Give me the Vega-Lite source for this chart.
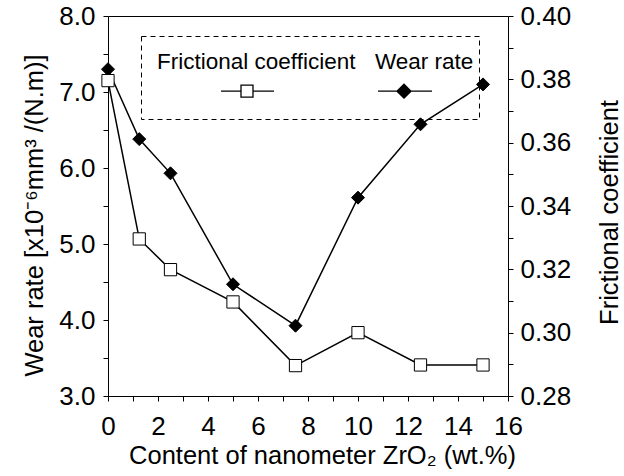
{
  "$schema": "https://vega.github.io/schema/vega-lite/v6.json",
  "width": 400,
  "height": 380,
  "autosize": {"type": "none"},
  "padding": {"left": 108, "top": 16, "right": 116, "bottom": 80},
  "config": {
    "font": "Liberation Sans",
    "view": {"stroke": "black", "strokeWidth": 1},
    "axis": {
      "domain": false,
      "grid": false,
      "labelFont": "Liberation Sans",
      "labelFontSize": 26,
      "labelColor": "black",
      "titleFont": "Liberation Sans",
      "titleFontSize": 25.5,
      "titleFontWeight": "normal",
      "titleColor": "black",
      "tickColor": "black",
      "tickWidth": 1,
      "labelOverlap": false,
      "labelFlush": false,
      "labelBound": false
    },
    "legend": {"strokeDash": [5, 4], "strokeColor": "black", "strokeWidth": 1}
  },
  "data": {
    "values": [
      {"content": 0, "wear_rate": 7.30, "frictional_coefficient": 0.3796},
      {"content": 1.25, "wear_rate": 6.38, "frictional_coefficient": 0.3296},
      {"content": 2.5, "wear_rate": 5.93, "frictional_coefficient": 0.3199},
      {"content": 5, "wear_rate": 4.47, "frictional_coefficient": 0.3097},
      {"content": 7.5, "wear_rate": 3.925, "frictional_coefficient": 0.2896},
      {"content": 10, "wear_rate": 5.61, "frictional_coefficient": 0.300},
      {"content": 12.5, "wear_rate": 6.575, "frictional_coefficient": 0.2898},
      {"content": 15, "wear_rate": 7.10, "frictional_coefficient": 0.2898}
    ]
  },
  "encoding": {
    "x": {
      "field": "content",
      "type": "quantitative",
      "scale": {"domain": [0, 16], "nice": false, "zero": false},
      "axis": {
        "orient": "bottom",
        "values": [0, 1, 2, 3, 4, 5, 6, 7, 8, 9, 10, 11, 12, 13, 14, 15, 16],
        "labelExpr": "datum.value % 2 == 0 ? datum.label : ''",
        "tickSize": 5,
        "labelPadding": 12,
        "title": "Content of nanometer ZrO₂ (wt.%)",
        "titleX": 214,
        "titleY": 67,
        "titleBaseline": "alphabetic",
        "titleAlign": "center"
      }
    }
  },
  "layer": [
    {
      "encoding": {
        "y": {
          "field": "wear_rate",
          "type": "quantitative",
          "scale": {"domain": [3, 8], "nice": false, "zero": false},
          "axis": {
            "orient": "left",
            "values": [3, 3.5, 4, 4.5, 5, 5.5, 6, 6.5, 7, 7.5, 8],
            "format": ".1f",
            "labelExpr": "datum.value % 1 == 0 ? datum.label : ''",
            "tickSize": 5,
            "labelPadding": 8,
            "title": "Wear rate [x10⁻⁶mm³ /(N.m)]",
            "titleAngle": -90,
            "titleBaseline": "alphabetic",
            "titleAlign": "center",
            "titleX": -66,
            "titleY": 199
          }
        }
      },
      "layer": [
        {"mark": {"type": "line", "color": "black", "strokeWidth": 1.5}},
        {"mark": {"type": "point", "shape": "diamond", "filled": true, "fill": "black", "stroke": "black", "strokeWidth": 1, "size": 169, "opacity": 1}}
      ]
    },
    {
      "encoding": {
        "y": {
          "field": "frictional_coefficient",
          "type": "quantitative",
          "scale": {"domain": [0.28, 0.40], "nice": false, "zero": false},
          "axis": {
            "orient": "right",
            "values": [0.28, 0.29, 0.30, 0.31, 0.32, 0.33, 0.34, 0.35, 0.36, 0.37, 0.38, 0.39, 0.40],
            "format": ".2f",
            "labelExpr": "round(datum.value * 100) % 2 == 0 ? datum.label : ''",
            "tickSize": 5,
            "labelPadding": 7,
            "title": "Frictional coefficient",
            "titleAngle": -90,
            "titleBaseline": "alphabetic",
            "titleAlign": "center",
            "titleX": 109,
            "titleY": 196
          }
        }
      },
      "layer": [
        {"mark": {"type": "line", "color": "black", "strokeWidth": 1.5}},
        {"mark": {"type": "point", "shape": "square", "filled": true, "fill": "white", "stroke": "black", "strokeWidth": 1, "size": 150, "opacity": 1}}
      ]
    },
    {
      "transform": [{"filter": "datum.content < 0"}],
      "mark": {"type": "point", "filled": true, "strokeWidth": 1.3, "opacity": 1},
      "encoding": {
        "shape": {
          "datum": "Wear rate",
          "type": "nominal",
          "scale": {
            "domain": ["Frictional coefficient", "Wear rate"],
            "range": [
              "M0,0L0,0M0,2.2245L0,2.2245M2.2245,1.2041L3.0408,1.2041M3.5306,1.2041L4.3878,1.2041M3.0408,0.9592L3.5306,0.9592L3.5306,1.449L3.0408,1.449Z",
              "M0,2.2245L0,2.2245M3.7347,0L3.7347,0M-0.2653,1.2041L1.9388,1.2041M0.5102,1.2041L0.7959,0.9184L1.0816,1.2041L0.7959,1.4898Z"
            ]
          },
          "legend": {
            "title": null, "orient": "none", "legendX": 33, "legendY": 20, "direction": "horizontal",
            "symbolSize": 2401, "symbolStrokeWidth": 1.3, "symbolOpacity": 1,
            "labelOffset": -35, "labelFont": "Liberation Sans", "labelFontSize": 22.5, "labelColor": "black", "labelLimit": 400,
            "columnPadding": 3, "padding": 0
          }
        },
        "fill": {
          "datum": "Wear rate",
          "type": "nominal",
          "scale": {"domain": ["Frictional coefficient", "Wear rate"], "range": ["white", "black"]},
          "legend": {
            "title": null, "orient": "none", "legendX": 33, "legendY": 20, "direction": "horizontal",
            "symbolSize": 2401, "symbolStrokeWidth": 1.3, "symbolOpacity": 1,
            "labelOffset": -35, "labelFont": "Liberation Sans", "labelFontSize": 22.5, "labelColor": "black", "labelLimit": 400,
            "columnPadding": 3, "padding": 0
          }
        },
        "stroke": {
          "datum": "Wear rate",
          "type": "nominal",
          "scale": {"domain": ["Frictional coefficient", "Wear rate"], "range": ["black", "black"]},
          "legend": {
            "title": null, "orient": "none", "legendX": 33, "legendY": 20, "direction": "horizontal",
            "symbolSize": 2401, "symbolStrokeWidth": 1.3, "symbolOpacity": 1,
            "labelOffset": -35, "labelFont": "Liberation Sans", "labelFontSize": 22.5, "labelColor": "black", "labelLimit": 400,
            "columnPadding": 3, "padding": 0
          }
        }
      }
    }
  ],
  "resolve": {"scale": {"y": "independent"}}
}
